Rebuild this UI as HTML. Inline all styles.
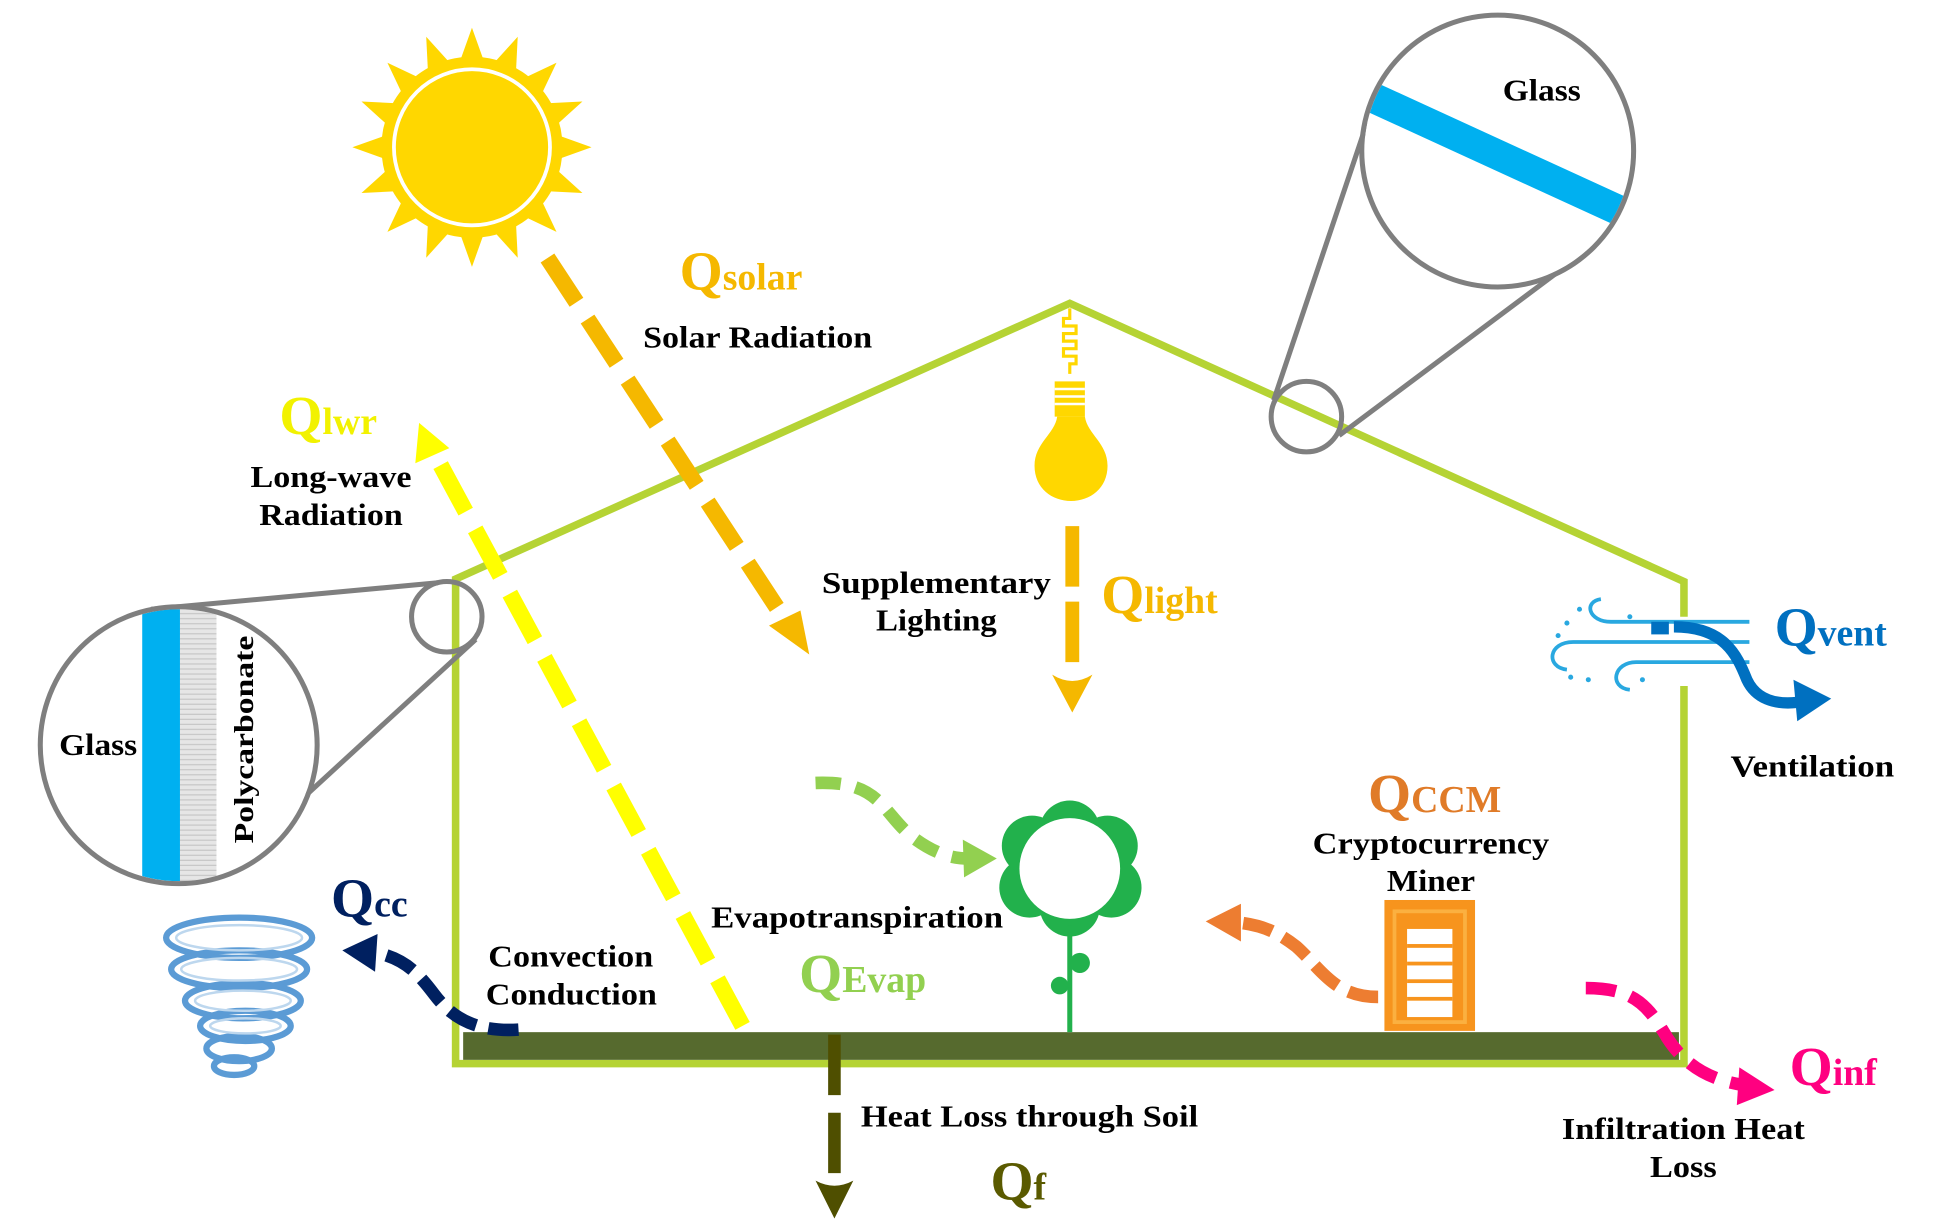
<!DOCTYPE html>
<html><head><meta charset="utf-8"><style>
html,body{margin:0;padding:0;background:#fff;}
svg{display:block;}
text{font-family:"Liberation Serif",serif;font-weight:bold;}
</style></head><body>
<svg width="1947" height="1226" viewBox="0 0 1547 974" preserveAspectRatio="none" xmlns="http://www.w3.org/2000/svg">
<defs>
<clipPath id="cg"><circle cx="1190" cy="120" r="106"/></clipPath>
<clipPath id="cl"><circle cx="142" cy="592" r="108"/></clipPath>
<pattern id="pc" width="6" height="4" patternUnits="userSpaceOnUse"><rect width="6" height="4" fill="#e6e6e6"/><rect y="3" width="6" height="1" fill="#c8c8c8"/></pattern>
<polygon id="ray" points="375,22 365,50 385,50" fill="#ffd700"/>
</defs>

<g>
<use href="#ray"/><use href="#ray" transform="rotate(22.5 375 117)"/><use href="#ray" transform="rotate(45 375 117)"/><use href="#ray" transform="rotate(67.5 375 117)"/>
<use href="#ray" transform="rotate(90 375 117)"/><use href="#ray" transform="rotate(112.5 375 117)"/><use href="#ray" transform="rotate(135 375 117)"/><use href="#ray" transform="rotate(157.5 375 117)"/>
<use href="#ray" transform="rotate(180 375 117)"/><use href="#ray" transform="rotate(202.5 375 117)"/><use href="#ray" transform="rotate(225 375 117)"/><use href="#ray" transform="rotate(247.5 375 117)"/>
<use href="#ray" transform="rotate(270 375 117)"/><use href="#ray" transform="rotate(292.5 375 117)"/><use href="#ray" transform="rotate(315 375 117)"/><use href="#ray" transform="rotate(337.5 375 117)"/>
<circle cx="375" cy="117" r="72" fill="#ffd700"/>
<circle cx="375" cy="117" r="62" fill="#ffd700" stroke="#fff" stroke-width="3"/>
</g>

<polyline points="1338,490 1338,462 850,241 362,460 362,845 1338,845 1338,545" fill="none" stroke="#b5d334" stroke-width="6"/>
<rect x="368" y="820" width="966" height="22" fill="#566a2e"/>

<line x1="1012" y1="318" x2="1086" y2="98" stroke="#7f7f7f" stroke-width="4"/>
<line x1="1064" y1="346" x2="1262" y2="198" stroke="#7f7f7f" stroke-width="4"/>
<circle cx="1190" cy="120" r="106" fill="#fff"/>
<g clip-path="url(#cg)"><line x1="1070" y1="68" x2="1310" y2="178" stroke="#00b0f0" stroke-width="24"/></g>
<circle cx="1190" cy="120" r="108" fill="none" stroke="#7f7f7f" stroke-width="4"/>
<circle cx="1038" cy="331" r="28" fill="none" stroke="#7f7f7f" stroke-width="4"/>
<text x="1194" y="80" font-size="24" textLength="62" lengthAdjust="spacingAndGlyphs">Glass</text>

<line x1="120" y1="484" x2="348" y2="463" stroke="#7f7f7f" stroke-width="4"/>
<line x1="232" y1="642" x2="378" y2="508" stroke="#7f7f7f" stroke-width="4"/>
<circle cx="142" cy="592" r="108" fill="#fff"/>
<g clip-path="url(#cl)"><rect x="113" y="470" width="30" height="240" fill="#00b0f0"/><rect x="143" y="470" width="29" height="240" fill="url(#pc)"/></g>
<circle cx="142" cy="592" r="110" fill="none" stroke="#7f7f7f" stroke-width="4"/>
<circle cx="355" cy="490" r="28" fill="none" stroke="#7f7f7f" stroke-width="4"/>
<text x="47" y="600" font-size="24" textLength="62" lengthAdjust="spacingAndGlyphs">Glass</text>
<text transform="translate(201,670) rotate(-90)" font-size="22" textLength="165" lengthAdjust="spacingAndGlyphs">Polycarbonate</text>

<path d="M850,245 v8 h-5 v6 h10 v6 h-10 v6 h10 v6 h-10 v6 h10 v6 h-5 v8" fill="none" stroke="#ffd700" stroke-width="2.5"/>
<rect x="838" y="303" width="24" height="28" fill="#ffd700"/>
<g stroke="#fff" stroke-width="2"><line x1="838" y1="309" x2="862" y2="309"/><line x1="838" y1="315" x2="862" y2="315"/><line x1="838" y1="321" x2="862" y2="321"/></g>
<path d="M840,331 C838,345 822,352 822,370 C822,388 836,398 851,398 C866,398 880,388 880,370 C880,352 864,345 862,331 z" fill="#ffd700"/>

<line x1="435" y1="205" x2="630" y2="502" stroke="#f5b800" stroke-width="13" stroke-dasharray="42,16"/>
<polygon points="643,520 611,497 636,485" fill="#f5b800"/>
<line x1="590" y1="815" x2="345" y2="360" stroke="#ffff00" stroke-width="13" stroke-dasharray="42,16"/>
<polygon points="333,336 330,368 357,356" fill="#ffff00"/>
<line x1="852" y1="418" x2="852" y2="532" stroke="#f5b800" stroke-width="11" stroke-dasharray="48,12"/>
<path d="M836,536 Q852,546 868,536 L852,566 z" fill="#f5b800"/>

<path d="M648,622 C700,620 700,645 725,665 C745,680 760,683 775,682" fill="none" stroke="#92d050" stroke-width="10" stroke-dasharray="20,12"/>
<polygon points="792,682 765,667 766,697" fill="#92d050"/>
<path d="M1095,792 C1060,792 1050,770 1030,752 C1012,738 1000,735 985,733" fill="none" stroke="#ed7d31" stroke-width="10" stroke-dasharray="24,10"/>
<polygon points="958,732 986,718 986,748" fill="#ed7d31"/>
<path d="M412,818 C380,820 360,810 345,790 C330,770 320,762 300,757" fill="none" stroke="#002060" stroke-width="10" stroke-dasharray="24,10"/>
<polygon points="272,755 300,742 298,772" fill="#002060"/>
<path d="M1260,785 C1300,785 1310,800 1325,825 C1340,848 1360,858 1385,862" fill="none" stroke="#ff0080" stroke-width="10" stroke-dasharray="24,12"/>
<polygon points="1410,866 1382,848 1380,878" fill="#ff0080"/>
<line x1="663" y1="822" x2="663" y2="935" stroke="#4f4f00" stroke-width="10" stroke-dasharray="48,14"/>
<path d="M648,938 Q663,946 678,938 L663,968 z" fill="#4f4f00"/>

<g fill="#22b14c">
<circle cx="850" cy="660" r="24"/><circle cx="880" cy="672" r="24"/><circle cx="883" cy="705" r="24"/><circle cx="850" cy="720" r="24"/><circle cx="818" cy="705" r="24"/><circle cx="820" cy="672" r="24"/>
</g>
<circle cx="850" cy="690" r="40" fill="#fff"/>
<line x1="850" y1="735" x2="850" y2="820" stroke="#22b14c" stroke-width="4"/>
<circle cx="858" cy="765" r="8" fill="#22b14c"/><circle cx="842" cy="783" r="7" fill="#22b14c"/>

<rect x="1100" y="715" width="72" height="104" fill="#f7941d"/>
<rect x="1108" y="724" width="56" height="88" fill="none" stroke="#fbb040" stroke-width="3"/>
<rect x="1118" y="738" width="36" height="70" fill="#fff"/>
<g fill="#f7941d"><rect x="1118" y="750" width="36" height="3"/><rect x="1118" y="764" width="36" height="3"/><rect x="1118" y="778" width="36" height="3"/><rect x="1118" y="792" width="36" height="3"/></g>

<g fill="none" stroke="#5b9bd5" stroke-width="5">
<ellipse cx="190" cy="745" rx="58" ry="16"/><ellipse cx="190" cy="770" rx="54" ry="15"/><ellipse cx="193" cy="795" rx="46" ry="14"/><ellipse cx="195" cy="815" rx="36" ry="12"/><ellipse cx="190" cy="833" rx="26" ry="10"/><ellipse cx="186" cy="847" rx="16" ry="7"/>
</g>
<g fill="none" stroke="#bdd7ee" stroke-width="2">
<ellipse cx="190" cy="745" rx="50" ry="10"/><ellipse cx="190" cy="770" rx="46" ry="9"/><ellipse cx="193" cy="795" rx="38" ry="8"/><ellipse cx="195" cy="815" rx="28" ry="6"/>
</g>

<g fill="none" stroke="#29a8e0" stroke-width="3">
<path d="M1390,494 H1280 C1262,494 1258,478 1272,476"/>
<path d="M1390,510 H1250 C1230,510 1228,530 1245,532"/>
<path d="M1390,526 H1300 C1282,526 1278,546 1295,548"/>
</g>
<g fill="#29a8e0"><circle cx="1245" cy="495" r="2"/><circle cx="1238" cy="505" r="2"/><circle cx="1255" cy="484" r="2"/><circle cx="1262" cy="540" r="2"/><circle cx="1248" cy="538" r="2"/><circle cx="1305" cy="540" r="2"/><circle cx="1295" cy="490" r="2"/></g>
<rect x="1312" y="494" width="14" height="10" fill="#0070c0"/>
<path d="M1330,498 C1370,498 1380,520 1388,540 C1395,555 1410,560 1428,558" fill="none" stroke="#0070c0" stroke-width="9"/>
<polygon points="1455,555 1425,540 1428,573" fill="#0070c0"/>

<text x="540" y="230" font-size="44" fill="#f5b800">Q<tspan font-size="30">solar</tspan></text>
<text x="511" y="276" font-size="24" textLength="182" lengthAdjust="spacingAndGlyphs">Solar Radiation</text>
<text x="222" y="345" font-size="44" fill="#f2f200">Q<tspan font-size="30">lwr</tspan></text>
<text x="199" y="387" font-size="24" textLength="128" lengthAdjust="spacingAndGlyphs">Long-wave</text>
<text x="206" y="417" font-size="24" textLength="114" lengthAdjust="spacingAndGlyphs">Radiation</text>
<text x="653" y="471" font-size="24" textLength="182" lengthAdjust="spacingAndGlyphs">Supplementary</text>
<text x="696" y="501" font-size="24" textLength="96" lengthAdjust="spacingAndGlyphs">Lighting</text>
<text x="875" y="487" font-size="44" fill="#f5b800">Q<tspan font-size="30">light</tspan></text>
<text x="1410" y="513" font-size="44" fill="#0070c0">Q<tspan font-size="30">vent</tspan></text>
<text x="1375" y="617" font-size="24" textLength="130" lengthAdjust="spacingAndGlyphs">Ventilation</text>
<text x="1087" y="645" font-size="44" fill="#e07b28">Q<tspan font-size="30">CCM</tspan></text>
<text x="1043" y="678" font-size="24" textLength="188" lengthAdjust="spacingAndGlyphs">Cryptocurrency</text>
<text x="1102" y="708" font-size="24" textLength="70" lengthAdjust="spacingAndGlyphs">Miner</text>
<text x="565" y="737" font-size="24" textLength="232" lengthAdjust="spacingAndGlyphs">Evapotranspiration</text>
<text x="635" y="788" font-size="44" fill="#92d050">Q<tspan font-size="30">Evap</tspan></text>
<text x="388" y="768" font-size="24" textLength="131" lengthAdjust="spacingAndGlyphs">Convection</text>
<text x="386" y="798" font-size="24" textLength="136" lengthAdjust="spacingAndGlyphs">Conduction</text>
<text x="263" y="728" font-size="44" fill="#002060">Q<tspan font-size="30">cc</tspan></text>
<text x="684" y="895" font-size="24" textLength="268" lengthAdjust="spacingAndGlyphs">Heat Loss through Soil</text>
<text x="787" y="953" font-size="44" fill="#5a5a00">Q<tspan font-size="30">f</tspan></text>
<text x="1422" y="862" font-size="44" fill="#ff0080">Q<tspan font-size="30">inf</tspan></text>
<text x="1241" y="905" font-size="24" textLength="193" lengthAdjust="spacingAndGlyphs">Infiltration Heat</text>
<text x="1311" y="935" font-size="24" textLength="53" lengthAdjust="spacingAndGlyphs">Loss</text>
</svg>
</body></html>
